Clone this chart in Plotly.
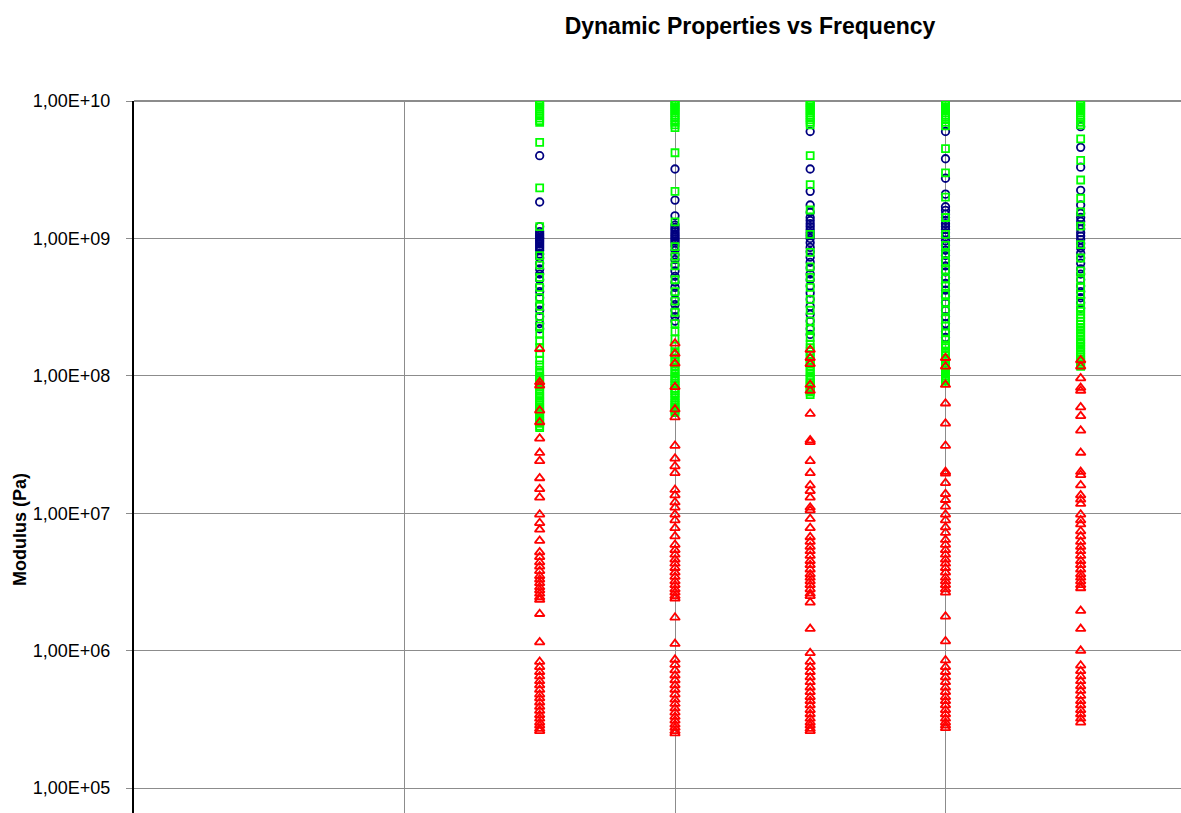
import plotly.graph_objects as go

# Test frequencies (Hz), one column of readings per frequency
FREQ = [0.316, 1.0, 3.16, 10.0, 31.6]

# Storage modulus readings (Pa) per frequency
STORAGE = [
    [4.0e9, 1.84e9, 1.22e9, 1.12e9, 1.08e9, 1.05e9, 1.02e9, 1.0e9, 9.7e8, 9.4e8, 9.1e8,
     8.8e8, 8.5e8, 8.2e8, 7.7e8, 7.2e8, 6.6e8, 6.0e8, 5.5e8, 5.0e8, 4.5e8, 4.1e8, 3.7e8,
     3.3e8, 3.0e8, 2.7e8, 2.4e8, 2.2e8],
    [3.2e9, 1.9e9, 1.46e9, 1.25e9, 1.2e9, 1.16e9, 1.12e9, 1.08e9, 1.05e9, 1.02e9, 9.9e8,
     9.6e8, 9.3e8, 8.8e8, 8.2e8, 7.6e8, 7.0e8, 6.4e8, 5.8e8, 5.3e8, 4.8e8, 4.4e8, 4.0e8,
     3.6e8, 3.3e8, 3.0e8, 2.7e8, 2.5e8],
    [6.0e9, 3.2e9, 2.2e9, 1.75e9, 1.55e9, 1.42e9, 1.35e9, 1.28e9, 1.22e9, 1.16e9, 1.1e9,
     1.05e9, 1.0e9, 9.3e8, 8.6e8, 8.0e8, 7.3e8, 6.7e8, 6.1e8, 5.5e8, 5.0e8, 4.5e8, 4.0e8,
     3.6e8, 3.2e8, 2.8e8, 2.5e8, 2.2e8, 2.0e8],
    [6.0e9, 3.8e9, 2.74e9, 2.1e9, 1.7e9, 1.6e9, 1.5e9, 1.42e9, 1.35e9, 1.28e9, 1.22e9,
     1.16e9, 1.1e9, 1.03e9, 9.6e8, 8.9e8, 8.2e8, 7.5e8, 6.9e8, 6.3e8, 5.7e8, 5.2e8, 4.7e8,
     4.2e8, 3.8e8, 3.4e8, 3.0e8, 2.7e8, 2.4e8, 2.1e8, 1.9e8],
    [6.5e9, 4.6e9, 3.3e9, 2.24e9, 1.75e9, 1.52e9, 1.42e9, 1.33e9, 1.25e9, 1.17e9, 1.1e9,
     1.04e9, 9.8e8, 9.2e8, 8.5e8, 7.8e8, 7.2e8, 6.6e8, 6.0e8, 5.5e8, 5.0e8, 4.5e8, 4.1e8,
     3.7e8, 3.4e8, 3.1e8],
]

# Complex modulus readings (Pa) per frequency
COMPLEX = [
    [1.0e10, 9.8e9, 9.6e9, 9.3e9, 9.0e9, 8.7e9, 8.4e9, 8.1e9, 7.8e9, 7.5e9, 7.2e9, 7.0e9,
     5.0e9, 2.33e9, 1.22e9, 7.5e8, 6.4e8, 5.2e8, 4.4e8, 3.7e8, 3.2e8, 2.7e8, 2.3e8, 2.0e8,
     1.8e8, 1.6e8, 1.45e8, 1.3e8, 1.2e8, 1.1e8, 1.04e8, 1.0e8, 9.6e7, 9.3e7, 8.9e7, 8.6e7,
     8.3e7, 8.0e7, 7.7e7, 7.4e7, 7.1e7, 6.9e7, 6.6e7, 6.4e7, 6.1e7, 5.9e7, 5.7e7, 5.5e7,
     5.3e7, 5.1e7, 4.9e7, 4.8e7, 4.6e7, 4.5e7, 4.3e7, 4.2e7],
    [1.0e10, 9.7e9, 9.4e9, 9.1e9, 8.8e9, 8.5e9, 8.2e9, 7.9e9, 7.6e9, 7.3e9, 7.0e9, 6.7e9,
     6.4e9, 4.2e9, 2.2e9, 1.32e9, 8.7e8, 7.4e8, 6.3e8, 5.0e8, 4.1e8, 3.5e8, 2.9e8, 2.4e8,
     2.1e8, 1.85e8, 1.65e8, 1.5e8, 1.42e8, 1.35e8, 1.28e8, 1.22e8, 1.16e8, 1.1e8, 1.05e8,
     1.0e8, 9.6e7, 9.2e7, 8.8e7, 8.5e7, 8.1e7, 7.8e7, 7.5e7, 7.2e7, 6.9e7, 6.6e7, 6.3e7,
     6.1e7, 5.9e7, 5.7e7, 5.5e7, 5.4e7],
    [1.0e10, 9.7e9, 9.4e9, 9.1e9, 8.8e9, 8.5e9, 8.2e9, 7.9e9, 7.6e9, 7.3e9, 7.0e9, 6.7e9,
     4.0e9, 2.46e9, 1.61e9, 1.07e9, 7.9e8, 6.2e8, 5.2e8, 4.4e8, 3.6e8, 3.0e8, 2.5e8, 2.2e8,
     1.9e8, 1.7e8, 1.6e8, 1.5e8, 1.42e8, 1.35e8, 1.28e8, 1.22e8, 1.16e8, 1.1e8, 1.05e8,
     1.0e8, 9.6e7, 9.3e7, 8.9e7, 8.6e7, 8.3e7, 8.0e7, 7.8e7, 7.6e7, 7.3e7],
    [1.0e10, 9.7e9, 9.4e9, 9.1e9, 8.8e9, 8.5e9, 8.2e9, 7.9e9, 7.6e9, 7.3e9, 7.0e9, 6.6e9,
     4.5e9, 3.0e9, 2.0e9, 1.42e9, 1.07e9, 8.9e8, 7.7e8, 6.8e8, 5.9e8, 5.1e8, 4.5e8, 3.9e8,
     3.4e8, 3.0e8, 2.6e8, 2.3e8, 2.05e8, 1.85e8, 1.68e8, 1.6e8, 1.52e8, 1.46e8, 1.4e8,
     1.34e8, 1.28e8, 1.23e8, 1.18e8, 1.14e8, 1.1e8, 1.06e8, 1.03e8, 9.9e7, 9.6e7, 9.3e7,
     9.1e7],
    [1.0e10, 9.7e9, 9.4e9, 9.1e9, 8.8e9, 8.5e9, 8.2e9, 7.9e9, 7.6e9, 7.3e9, 7.0e9, 6.7e9,
     5.3e9, 3.7e9, 2.66e9, 1.96e9, 1.56e9, 1.23e9, 9.0e8, 7.2e8, 5.8e8, 5.0e8, 4.4e8,
     3.9e8, 3.5e8, 3.1e8, 2.95e8, 2.8e8, 2.65e8, 2.5e8, 2.38e8, 2.25e8, 2.15e8, 2.05e8,
     1.95e8, 1.85e8, 1.77e8, 1.7e8, 1.62e8, 1.55e8, 1.48e8, 1.42e8, 1.36e8, 1.3e8, 1.26e8,
     1.22e8, 1.19e8, 1.17e8],
]

# Loss modulus readings (Pa) per frequency
LOSS = [
    [1.57e8, 9.0e7, 8.5e7, 5.6e7, 4.6e7, 3.5e7, 2.75e7, 2.4e7, 1.8e7, 1.5e7, 1.3e7, 9.8e6,
     8.5e6, 7.6e6, 6.3e6, 5.2e6, 4.8e6, 4.4e6, 4.1e6, 3.8e6, 3.5e6, 3.3e6, 3.1e6, 2.9e6,
     2.75e6, 2.6e6, 2.45e6, 2.35e6, 1.85e6, 1.15e6, 8.3e5, 7.6e5, 7.0e5, 6.5e5, 6.0e5,
     5.6e5, 5.2e5, 4.8e5, 4.5e5, 4.2e5, 3.9e5, 3.65e5, 3.4e5, 3.2e5, 3.0e5, 2.85e5,
     2.7e5, 2.6e5],
    [1.72e8, 1.45e8, 1.23e8, 8.3e7, 5.7e7, 5.0e7, 3.1e7, 2.5e7, 2.2e7, 1.96e7, 1.48e7,
     1.35e7, 1.2e7, 1.1e7, 9.8e6, 8.9e6, 7.8e6, 6.8e6, 5.9e6, 5.4e6, 5.0e6, 4.6e6, 4.3e6,
     4.0e6, 3.7e6, 3.45e6, 3.2e6, 3.0e6, 2.8e6, 2.65e6, 2.5e6, 2.4e6, 1.74e6, 1.12e6,
     8.6e5, 7.9e5, 7.2e5, 6.6e5, 6.1e5, 5.6e5, 5.2e5, 4.8e5, 4.4e5, 4.1e5, 3.8e5, 3.55e5,
     3.3e5, 3.1e5, 2.9e5, 2.75e5, 2.6e5, 2.5e5],
    [1.55e8, 1.35e8, 1.22e8, 8.6e7, 7.8e7, 5.3e7, 3.4e7, 3.3e7, 2.4e7, 1.96e7, 1.6e7,
     1.45e7, 1.3e7, 1.1e7, 1.05e7, 9.1e6, 7.8e6, 6.7e6, 6.2e6, 5.7e6, 5.3e6, 4.9e6, 4.5e6,
     4.2e6, 3.9e6, 3.6e6, 3.4e6, 3.2e6, 3.0e6, 2.8e6, 2.6e6, 2.5e6, 2.24e6, 1.44e6, 9.6e5,
     8.3e5, 7.6e5, 7.0e5, 6.4e5, 5.9e5, 5.4e5, 5.0e5, 4.6e5, 4.3e5, 4.0e5, 3.7e5, 3.45e5,
     3.2e5, 3.0e5, 2.85e5, 2.7e5, 2.6e5],
    [1.35e8, 1.17e8, 8.6e7, 6.3e7, 4.5e7, 3.1e7, 2.0e7, 1.95e7, 1.66e7, 1.38e7, 1.25e7,
     1.12e7, 9.8e6, 8.9e6, 7.9e6, 7.2e6, 6.4e6, 5.9e6, 5.4e6, 5.0e6, 4.6e6, 4.3e6, 4.0e6,
     3.7e6, 3.4e6, 3.2e6, 3.0e6, 2.8e6, 2.65e6, 1.77e6, 1.17e6, 8.5e5, 7.6e5, 7.0e5, 6.4e5,
     5.9e5, 5.4e5, 5.0e5, 4.6e5, 4.3e5, 4.0e5, 3.7e5, 3.45e5, 3.2e5, 3.0e5, 2.85e5, 2.73e5],
    [1.3e8, 1.17e8, 9.6e7, 8.2e7, 7.8e7, 5.9e7, 5.1e7, 4.0e7, 2.76e7, 2.0e7, 1.9e7, 1.6e7,
     1.35e7, 1.26e7, 1.17e7, 9.8e6, 8.9e6, 8.3e6, 7.4e6, 6.8e6, 6.2e6, 5.7e6, 5.3e6, 4.9e6,
     4.5e6, 4.2e6, 3.9e6, 3.6e6, 3.4e6, 3.2e6, 3.0e6, 2.85e6, 1.95e6, 1.44e6, 1.0e6, 7.8e5,
     7.1e5, 6.5e5, 6.0e5, 5.5e5, 5.1e5, 4.7e5, 4.3e5, 4.0e5, 3.7e5, 3.45e5, 3.2e5, 3.0e5],
]

Y_TICKS = [1e5, 1e6, 1e7, 1e8, 1e9, 1e10]
Y_TICK_TEXT = ["1,00E+05", "1,00E+06", "1,00E+07", "1,00E+08", "1,00E+09", "1,00E+10"]

FONT = "Liberation Sans, Arial, sans-serif"
GRID = "#8c8c8c"


def flatten(columns):
    xs, ys = [], []
    for f, col in zip(FREQ, columns):
        xs.extend([f] * len(col))
        ys.extend(col)
    return xs, ys


fig = go.Figure()

series = [
    ("E'", STORAGE, "circle-open", "#000080", 7.5),
    ("E*", COMPLEX, "square-open", "#00ff00", 7),
    ("E''", LOSS, "triangle-up-open", "#ff0000", 8.5),
]
for name, cols, symbol, color, size in series:
    xs, ys = flatten(cols)
    fig.add_trace(go.Scatter(
        x=xs, y=ys, mode="markers", name=name,
        marker=dict(symbol=symbol, size=size, color=color, line=dict(color=color, width=1.8)),
        showlegend=False,
    ))

fig.update_layout(
    width=1181, height=813,
    margin=dict(l=134, r=0, t=101, b=0, pad=0),
    paper_bgcolor="white", plot_bgcolor="white",
    font=dict(family=FONT, color="black"),
    title=dict(
        text="<b>Dynamic Properties vs Frequency</b>",
        font=dict(family=FONT, size=23, color="black"),
        xref="container", x=750 / 1181, xanchor="center",
        yref="container", y=1 - 26 / 813, yanchor="middle",
    ),
    annotations=[dict(
        text="<b>Modulus (Pa)</b>", textangle=-90,
        xref="paper", yref="paper",
        x=-114 / 1047, y=(813 - 530) / 712,
        xanchor="center", yanchor="middle", showarrow=False,
        font=dict(family=FONT, size=18, color="black"),
    )],
    shapes=[dict(
        type="line", xref="paper", yref="paper", x0=0, x1=1, y0=1, y1=1,
        line=dict(color="#8c8c8c", width=2), layer="below",
    )],
)

fig.update_xaxes(
    type="log", range=[-2, -2 + 1047 / 270.5],
    dtick=1, showgrid=True, gridcolor=GRID, gridwidth=1,
    showticklabels=False, ticks="", showline=False, zeroline=False,
)
fig.update_yaxes(
    type="log", range=[10 - 712 / 137.4, 10],
    tickmode="array", tickvals=Y_TICKS, ticktext=Y_TICK_TEXT,
    showgrid=True, gridcolor=GRID, gridwidth=1,
    showline=True, linecolor="black", linewidth=2,
    ticks="outside", ticklen=6, tickwidth=1, tickcolor=GRID,
    ticklabelstandoff=12,
    tickfont=dict(family=FONT, size=18, color="black"),
    zeroline=False,
)

fig.write_html("out.html")
